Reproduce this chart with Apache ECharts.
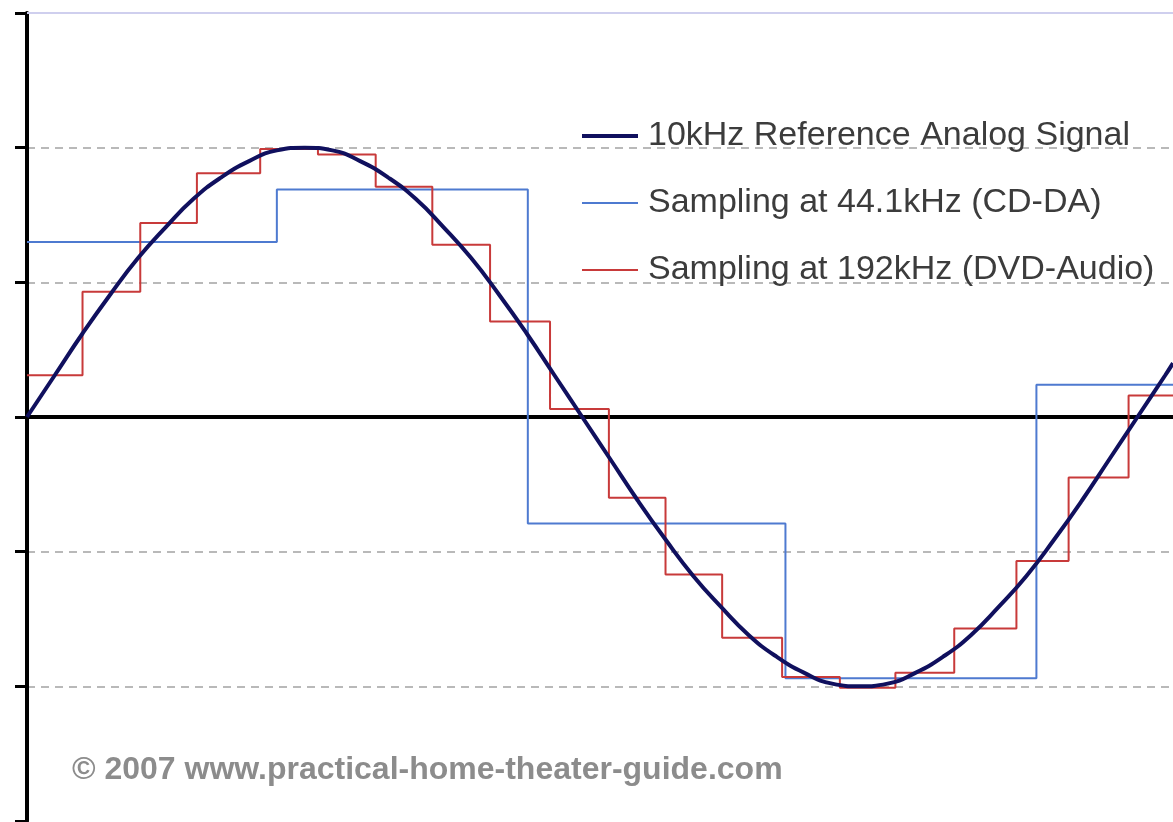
<!DOCTYPE html>
<html lang="en">
<head>
    <meta charset="UTF-8">
    <title>Sampling</title>
    <script src="https://cdn.jsdelivr.net/npm/echarts/dist/echarts.min.js"></script>
    <style>
        html, body { margin: 0; padding: 0; background: #fff; }
        #chart { width: 1173px; height: 822px; }
    </style>
</head>
<body>
    <div id="chart"></div>
    <script type="text/javascript">
        // names
        var seriesNames = ['10kHz Reference Analog Signal', 'Sampling at 44.1kHz (CD-DA)', 'Sampling at 192kHz (DVD-Audio)'];
        // time in microseconds
        var xMax = 103.2;
        // analog signal
        var sineT = [0, 2.5, 5, 7.5, 10, 12.5, 15, 17.5, 20, 22.5, 25, 27.5, 30, 32.5, 35, 37.5, 40, 42.5, 45, 47.5, 50,
            52.5, 55, 57.5, 60, 62.5, 65, 67.5, 70, 72.5, 75, 77.5, 80, 82.5, 85, 87.5, 90, 92.5, 95, 97.5, 100, 102.5, 103.2];
        var sineV = [0, 0.31, 0.62, 0.91, 1.18, 1.41, 1.62, 1.78, 1.90, 1.98, 2.00, 1.98, 1.90, 1.78, 1.62, 1.41, 1.18, 0.91, 0.62, 0.31, 0,
            -0.31, -0.62, -0.91, -1.18, -1.41, -1.62, -1.78, -1.90, -1.98, -2.00, -1.98, -1.90, -1.78, -1.62, -1.41, -1.18, -0.91, -0.62, -0.31, 0, 0.31, 0.40];
        // 44.1kHz steps (start of each step, level)
        var cdT = [0, 22.5, 45.1, 68.3, 90.9, 103.2];
        var cdV = [1.30, 1.69, -0.79, -1.94, 0.24, 0.24];
        // 192kHz steps
        var dvdT = [0, 5.0, 10.2, 15.3, 21.0, 26.2, 31.4, 36.5, 41.7, 47.1, 52.4, 57.5, 62.6, 68.0, 73.2, 78.2, 83.5, 89.1, 93.8, 99.2, 103.2];
        var dvdV = [0.31, 0.93, 1.44, 1.81, 1.99, 1.95, 1.71, 1.28, 0.71, 0.06, -0.60, -1.17, -1.64, -1.93, -2.01, -1.90, -1.57, -1.07, -0.45, 0.16, 0.16];

        function pairs(t, v) {
            var out = [];
            for (var i = 0; i < t.length; i++) out.push([t[i], v[i]]);
            return out;
        }

        var font = "'Liberation Sans', Arial, sans-serif";
        var chart = echarts.init(document.getElementById('chart'));
        var option = {
            animation: false,
            grid: { left: 27, right: 0, top: 13, bottom: 1 },
            legend: {
                orient: 'vertical',
                left: 577,
                top: 113,
                itemWidth: 56,
                itemHeight: 14,
                itemGap: 31,
                data: [
                    { name: seriesNames[0], icon: 'path://M0,0L56,0L56,4L0,4Z' },
                    { name: seriesNames[1], icon: 'path://M0,0L56,0L56,2L0,2Z' },
                    { name: seriesNames[2], icon: 'path://M0,0L56,0L56,2L0,2Z' }
                ],
                textStyle: { fontSize: 34, lineHeight: 36, color: '#3c3c3c', fontFamily: font, padding: [0, 0, 0, 5] }
            },
            xAxis: [
                {
                    type: 'value', min: 0, max: xMax,
                    axisLine: { onZero: true, lineStyle: { color: '#000', width: 4 } },
                    axisTick: { show: false }, axisLabel: { show: false }, splitLine: { show: false }
                },
                {
                    type: 'value', min: 0, max: xMax, position: 'top',
                    axisLine: { onZero: false, lineStyle: { color: '#cfcfee', width: 2 } },
                    axisTick: { show: false }, axisLabel: { show: false }, splitLine: { show: false }
                }
            ],
            yAxis: {
                type: 'value', min: -3, max: 3, interval: 1,
                axisLine: { show: true, lineStyle: { color: '#000', width: 4 } },
                axisTick: { show: true, length: 12, lineStyle: { color: '#000', width: 3 } },
                axisLabel: { show: false },
                splitLine: {
                    show: true,
                    lineStyle: {
                        color: ['transparent', '#b9b9b9', '#b9b9b9', 'transparent', '#b9b9b9', '#b9b9b9', 'transparent'],
                        width: 2, type: [8, 6]
                    }
                }
            },
            graphic: [{
                type: 'text', left: 72, top: 754,
                style: { text: '\u00a9 2007 www.practical-home-theater-guide.com', font: 'bold 32px ' + font, fill: '#8c8c8c' }
            }],
            series: [
                {
                    name: seriesNames[1], type: 'line', step: 'end', symbol: 'none',
                    data: pairs(cdT, cdV),
                    lineStyle: { color: '#4e7ad0', width: 2 }, itemStyle: { color: '#4e7ad0' }
                },
                {
                    name: seriesNames[2], type: 'line', step: 'end', symbol: 'none',
                    data: pairs(dvdT, dvdV),
                    lineStyle: { color: '#c83a3a', width: 2 }, itemStyle: { color: '#c83a3a' }
                },
                {
                    name: seriesNames[0], type: 'line', smooth: true, symbol: 'none',
                    data: pairs(sineT, sineV),
                    lineStyle: { color: '#10105e', width: 4 }, itemStyle: { color: '#10105e' }
                }
            ]
        };
        chart.setOption(option);
    </script>
</body>
</html>
